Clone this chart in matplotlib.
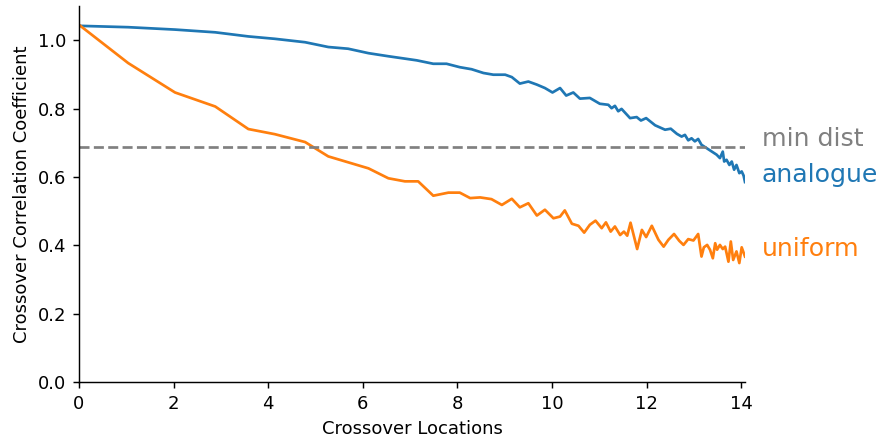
import numpy as np
import matplotlib
matplotlib.use('Agg')
from matplotlib import pyplot as plt

# analogue crossover curve
analogue_x = [0.0, 1.04, 2.03, 2.88, 3.58, 4.14, 4.78, 5.27, 5.69, 6.12, 6.54, 6.89, 7.14,
              7.49, 7.77, 8.05, 8.30, 8.55, 8.76, 9.01, 9.15, 9.32, 9.50, 9.68, 9.85,
              10.01, 10.17, 10.30, 10.45, 10.59, 10.80, 11.01, 11.19, 11.26, 11.33, 11.40,
              11.47, 11.65, 11.79, 11.88, 11.99, 12.18, 12.39, 12.51, 12.64, 12.74, 12.81,
              12.88, 12.95, 13.02, 13.09, 13.16, 13.27, 13.38, 13.48, 13.55, 13.61, 13.64,
              13.69, 13.75, 13.80, 13.85, 13.90, 13.96, 14.01, 14.05, 14.08]
analogue_y = [1.042, 1.038, 1.031, 1.023, 1.011, 1.004, 0.994, 0.980, 0.975, 0.962, 0.953,
              0.946, 0.941, 0.931, 0.931, 0.921, 0.915, 0.904, 0.899, 0.899, 0.892, 0.873,
              0.879, 0.870, 0.860, 0.847, 0.860, 0.838, 0.847, 0.829, 0.831, 0.814, 0.811,
              0.801, 0.808, 0.792, 0.799, 0.772, 0.775, 0.765, 0.772, 0.751, 0.738, 0.741,
              0.726, 0.718, 0.723, 0.707, 0.713, 0.704, 0.711, 0.694, 0.684, 0.674, 0.665,
              0.655, 0.674, 0.645, 0.650, 0.635, 0.645, 0.621, 0.635, 0.611, 0.616, 0.604,
              0.585]

# uniform crossover curve
uniform_x = [0.0, 1.04, 2.03, 2.88, 3.58, 4.14, 4.78, 5.27, 6.12, 6.54, 6.89, 7.17, 7.49,
             7.81, 8.05, 8.27, 8.48, 8.72, 8.94, 9.15, 9.32, 9.50, 9.68, 9.85, 10.03, 10.17,
             10.27, 10.42, 10.56, 10.68, 10.80, 10.92, 11.05, 11.14, 11.24, 11.33, 11.44,
             11.52, 11.59, 11.66, 11.80, 11.90, 11.99, 12.11, 12.25, 12.36, 12.46, 12.58,
             12.69, 12.78, 12.88, 12.99, 13.09, 13.16, 13.21, 13.28, 13.34, 13.40, 13.45,
             13.49, 13.55, 13.61, 13.66, 13.73, 13.78, 13.83, 13.90, 13.96, 14.01, 14.08]
uniform_y = [1.045, 0.933, 0.847, 0.806, 0.740, 0.725, 0.702, 0.660, 0.625, 0.596, 0.587,
             0.587, 0.545, 0.554, 0.554, 0.538, 0.540, 0.535, 0.518, 0.536, 0.511, 0.523,
             0.487, 0.504, 0.479, 0.484, 0.502, 0.463, 0.457, 0.437, 0.460, 0.472, 0.450,
             0.467, 0.440, 0.455, 0.430, 0.440, 0.428, 0.466, 0.389, 0.445, 0.424, 0.457,
             0.416, 0.396, 0.416, 0.433, 0.413, 0.401, 0.418, 0.414, 0.433, 0.367, 0.394,
             0.401, 0.387, 0.362, 0.406, 0.387, 0.401, 0.389, 0.396, 0.352, 0.411, 0.357,
             0.382, 0.348, 0.394, 0.367]

min_dist = 0.688

fig = plt.figure(figsize=(881 / 130, 440 / 130), dpi=130)
ax = fig.add_axes([79 / 881, 1 - 382 / 440, (745 - 79) / 881, (382 - 6) / 440])

ax.plot(analogue_x, analogue_y, color='#1f77b4')
ax.plot(uniform_x, uniform_y, color='#ff7f0e')
ax.hlines(min_dist, 0, analogue_x[-1], colors='gray', linestyles='--')

ax.text(14.43, 0.712, 'min dist', color='gray', fontsize=14, va='center')
ax.text(14.43, 0.606, 'analogue', color='#1f77b4', fontsize=14, va='center')
ax.text(14.43, 0.389, 'uniform', color='#ff7f0e', fontsize=14, va='center')

ax.set_xlim(0, analogue_x[-1])
ax.set_ylim(0, 1.1)
ax.set_xticks([0, 2, 4, 6, 8, 10, 12, 14])
ax.set_yticks([0.0, 0.2, 0.4, 0.6, 0.8, 1.0])
ax.set_xlabel('Crossover Locations')
ax.set_ylabel('Crossover Correlation Coefficient')
ax.spines['top'].set_visible(False)
ax.spines['right'].set_visible(False)

fig.savefig('out.png', dpi=130)
